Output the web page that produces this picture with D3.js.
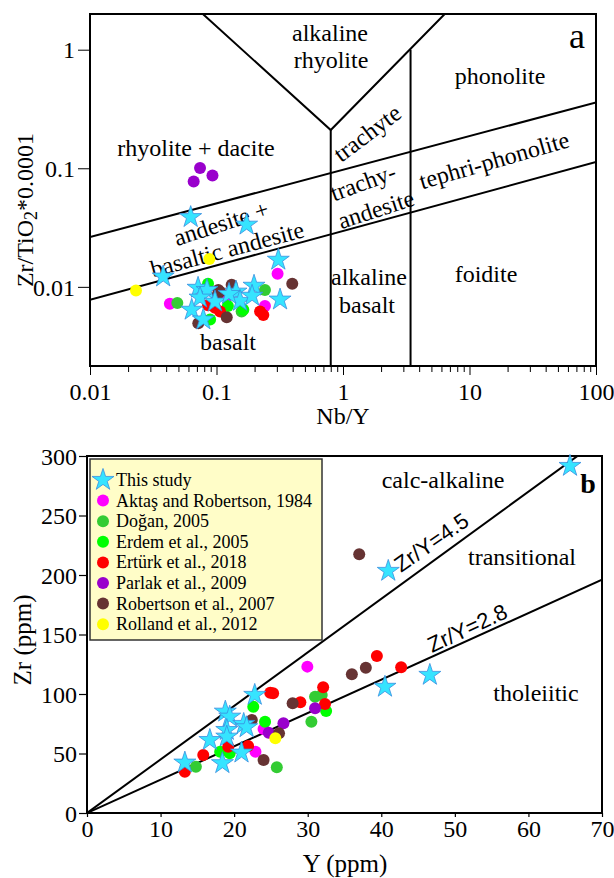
<!DOCTYPE html>
<html>
<head>
<meta charset="utf-8">
<script src="https://cdn.jsdelivr.net/npm/d3@7"></script>
<style>
  html, body { margin: 0; padding: 0; background: #fff; }
  svg { display: block; }
  text { font-family: "Liberation Serif", "Times New Roman", Times, serif; fill: #000; }
</style>
</head>
<body>
<svg id="chart" width="614" height="878"></svg>
<script>
// ---- Series (legend order) ----
const seriesNames = [
  "This study",
  "Aktaş and Robertson, 1984",
  "Doğan, 2005",
  "Erdem et al., 2005",
  "Ertürk et al., 2018",
  "Parlak et al., 2009",
  "Robertson et al., 2007",
  "Rolland et al., 2012"
];
const seriesColors = ["#36e4ff", "#ff00ff", "#33cc33", "#00ff00", "#ff0000", "#9900cc", "#663333", "#ffff00"];

// ---- Panel a: Nb/Y vs Zr/TiO2*0.0001 ----
const thisStudyA = [[0.0625,0.0387],[0.173,0.0334],[0.308,0.0169],[0.0379,0.0122],[0.318,0.0078],[0.198,0.0102],
  [0.0715,0.0098],[0.0841,0.0094],[0.0741,0.0081],[0.1426,0.0091],[0.1535,0.0076],[0.191,0.0084],
  [0.0637,0.0064],[0.0787,0.0053],[0.0973,0.0075],[0.1256,0.0087]];
const aktasA = [[0.304,0.0129],[0.0428,0.0072],[0.2415,0.0069],[0.1205,0.0083]];
const doganA = [[0.049,0.0073],[0.2415,0.0094],[0.158,0.0062]];
const erdemA = [[0.089,0.0053],[0.163,0.0064],[0.0857,0.0106],[0.123,0.0069]];
const erturkA = [[0.221,0.0062],[0.2344,0.0058],[0.0973,0.00665],[0.1067,0.0062],[0.0857,0.0070]];
const parlakA = [[0.0741,0.1004],[0.0929,0.0869],[0.066,0.0774]];
const robertsonA = [[0.397,0.0106],[0.1033,0.0094],[0.1318,0.0104],[0.1205,0.00555],[0.0718,0.00494],[0.1004,0.0083],[0.1067,0.0091]];
const rollandA = [[0.0877,0.0172],[0.0231,0.0093]];

// ---- Panel b: Y vs Zr (ppm) ----
const thisStudyB = [[65.65,291.6],[40.95,203.4],[40.5,106],[46.6,116],[22.8,99.2],[18.8,85.1],[19.4,80.9],
  [21.3,74.8],[21.7,72],[19.0,69.7],[19.0,64.1],[16.7,61.3],[21.0,50.7],[18.4,41.8],[13.3,42.3]];
const aktasB = [[29.95,123],[24.0,70.6],[22.9,51.5]];
const doganB = [[31.0,97.7],[31.9,99.2],[30.5,76.7],[25.8,38.4],[14.8,38.9]];
const erdemB = [[32.5,85.7],[22.6,89.3],[24.2,76.7],[18.1,51.5],[19.4,50.2]];
const erturkB = [[39.4,132],[42.7,122.4],[32.1,105.6],[32.35,91.6],[24.9,101],[25.3,100.6],[29.0,93],
  [15.8,48.7],[13.3,34.7],[19.2,55.7],[21.9,56.3]];
const parlakB = [[31.0,88],[26.7,75.4],[24.7,67.5]];
const robertsonB = [[37,217.4],[37.9,122],[36,116.5],[27.95,92.2],[22.4,78.2],[26.1,67],[24.0,44.5]];
const rollandB = [[25.6,62.8]];

// ---- Axis ticks ----
const xTicksA = [0.01, 0.1, 1, 10, 100];
const yTicksA = [0.01, 0.1, 1];
const xTicksB = [0, 10, 20, 30, 40, 50, 60, 70];
const yTicksB = [0, 50, 100, 150, 200, 250, 300];

// ---- Classification boundaries ----
const fieldLinesA = [
  [[0.01,0.0263],[100,0.359]],
  [[0.01,0.00777],[100,0.1128]],
  [[0.078,2.0],[0.8,0.21],[6.37,2.0]],
  [[0.8,0.00215],[0.8,0.21]],
  [[3.42,0.00215],[3.42,1.0]]
];
const zrYRatios = [4.5, 2.8];

const svg = d3.select("#chart");
const seriesA = [thisStudyA, aktasA, doganA, erdemA, erturkA, parlakA, robertsonA, rollandA];
const seriesB = [thisStudyB, aktasB, doganB, erdemB, erturkB, parlakB, robertsonB, rollandB];
const starPath = d3.symbol(d3.symbolStar, 150)();

function drawPoints(g, series, x, y) {
  for (let i = 1; i < series.length; i++) {
    g.selectAll(null).data(series[i]).join("circle")
      .attr("cx", d => x(d[0])).attr("cy", d => y(d[1]))
      .attr("r", 6).attr("fill", seriesColors[i]);
  }
  g.selectAll(null).data(series[0]).join("path")
    .attr("d", starPath)
    .attr("transform", d => `translate(${x(d[0])},${y(d[1])})`)
    .attr("fill", seriesColors[0]).attr("stroke", "#3a8ee0").attr("stroke-width", 0.8);
}

// ================= Panel a =================
const xa = d3.scaleLog().domain([0.01, 100]).range([90, 596]);
const ya = d3.scaleLog().domain([0.00215, 2.0]).range([366, 14]);
const ga = svg.append("g");

ga.append("clipPath").attr("id", "clipA").append("rect")
  .attr("x", 90).attr("y", 14).attr("width", 506).attr("height", 352);

// x axis with minor ticks
const minorA = xa.ticks();
const xAxisA = d3.axisBottom(xa).tickValues(minorA)
  .tickFormat(d => xTicksA.includes(d) ? d3.format("~g")(d) : "").tickSizeOuter(0);
const gxa = ga.append("g").attr("transform", "translate(0,366)").call(xAxisA);
gxa.attr("font-family", null);
gxa.select(".domain").remove();
gxa.selectAll(".tick line").attr("stroke", "#000").attr("stroke-width", 1)
  .attr("y2", d => xTicksA.includes(d) ? 9 : 6);
gxa.selectAll(".tick text").attr("y", 34).attr("dy", 0).attr("font-size", 24);

const yAxisA = d3.axisLeft(ya).tickValues(yTicksA).tickFormat(d3.format("~g")).tickSize(12);
const gya = ga.append("g").attr("transform", "translate(90,0)").call(yAxisA);
gya.attr("font-family", null);
gya.select(".domain").remove();
gya.selectAll(".tick line").attr("stroke", "#000").attr("stroke-width", 1);
gya.selectAll(".tick text").attr("x", -15).attr("dy", "0.34em").attr("font-size", 24);

const lineA = d3.line().x(d => xa(d[0])).y(d => ya(d[1]));
ga.append("g").attr("clip-path", "url(#clipA)")
  .selectAll("path").data(fieldLinesA).join("path")
  .attr("d", lineA).attr("fill", "none").attr("stroke", "#000").attr("stroke-width", 2);

ga.append("rect").attr("x", 90).attr("y", 14).attr("width", 506).attr("height", 352)
  .attr("fill", "none").attr("stroke", "#000").attr("stroke-width", 2);

// field names
const labelsA = [
  {t: "alkaline", x: 330, y: 41},
  {t: "rhyolite", x: 331, y: 68},
  {t: "phonolite", x: 500, y: 84},
  {t: "rhyolite + dacite", x: 196, y: 156},
  {t: "foidite", x: 486, y: 282},
  {t: "alkaline", x: 369, y: 285},
  {t: "basalt", x: 367, y: 313},
  {t: "basalt", x: 228, y: 350}
];
ga.selectAll("text.lbl").data(labelsA).join("text").attr("class", "lbl")
  .attr("x", d => d.x).attr("y", d => d.y).attr("text-anchor", "middle")
  .attr("font-size", 24).text(d => d.t);

const rotLabelsA = [
  {t: "trachyte", x: 367, y: 133, r: -37},
  {t: "trachy-", x: 363, y: 182, r: -20},
  {t: "andesite", x: 376, y: 209, r: -18},
  {t: "tephri-phonolite", x: 494, y: 160, r: -16},
  {t: "andesite +", x: 221, y: 223, r: -18},
  {t: "basaltic andesite", x: 227, y: 249, r: -15}
];
ga.selectAll("text.rlbl").data(rotLabelsA).join("text").attr("class", "rlbl")
  .attr("transform", d => `translate(${d.x},${d.y}) rotate(${d.r})`)
  .attr("text-anchor", "middle").attr("dy", "0.35em")
  .attr("font-size", 24).text(d => d.t);

drawPoints(ga, seriesA, xa, ya);

ga.append("text").attr("x", 577).attr("y", 48).attr("text-anchor", "middle")
  .attr("font-size", 36).text("a");

ga.append("text").attr("x", 343).attr("y", 424).attr("text-anchor", "middle")
  .attr("font-size", 24).text("Nb/Y");

const ytA = ga.append("text").attr("transform", "translate(33,210) rotate(-90)")
  .attr("text-anchor", "middle").attr("font-size", 24);
ytA.append("tspan").text("Zr/TiO");
ytA.append("tspan").attr("font-size", 18).attr("dy", 4).text("2");
ytA.append("tspan").attr("dy", -4).text("*0.0001");

// ================= Panel b =================
const xb = d3.scaleLinear().domain([0, 70]).range([87, 602]);
const yb = d3.scaleLinear().domain([0, 300]).range([813, 456]);
const gb = svg.append("g");

gb.append("clipPath").attr("id", "clipB").append("rect")
  .attr("x", 87).attr("y", 456).attr("width", 515).attr("height", 357);

const xAxisB = d3.axisBottom(xb).tickValues(xTicksB).tickSize(4).tickSizeOuter(0);
const gxb = gb.append("g").attr("transform", "translate(0,813)").call(xAxisB);
gxb.attr("font-family", null);
gxb.select(".domain").remove();
gxb.selectAll(".tick line").attr("stroke", "#000").attr("stroke-width", 1.2);
gxb.selectAll(".tick text").attr("y", 24).attr("dy", 0).attr("font-size", 24);

const yAxisB = d3.axisLeft(yb).tickValues(yTicksB).tickSize(8).tickSizeOuter(0);
const gyb = gb.append("g").attr("transform", "translate(87,0)").call(yAxisB);
gyb.attr("font-family", null);
gyb.select(".domain").remove();
gyb.selectAll(".tick line").attr("stroke", "#000").attr("stroke-width", 1.2);
gyb.selectAll(".tick text").attr("x", -10).attr("dy", "0.34em").attr("font-size", 24);

gb.append("g").attr("clip-path", "url(#clipB)")
  .selectAll("line").data(zrYRatios).join("line")
  .attr("x1", xb(0)).attr("y1", yb(0))
  .attr("x2", xb(70)).attr("y2", r => yb(70 * r))
  .attr("stroke", "#000").attr("stroke-width", 2);

// legend
const lg = gb.append("g");
lg.append("rect").attr("x", 90).attr("y", 459).attr("width", 232).attr("height", 181)
  .attr("fill", "#fffdc8").attr("stroke", "#333").attr("stroke-width", 1.5);
seriesNames.forEach((name, i) => {
  const cy = 480 + 20.6 * i;
  if (i === 0) {
    lg.append("path").attr("d", starPath).attr("transform", `translate(103,${cy})`)
      .attr("fill", seriesColors[0]).attr("stroke", "#3a8ee0").attr("stroke-width", 0.8);
  } else {
    lg.append("circle").attr("cx", 103).attr("cy", cy).attr("r", 6).attr("fill", seriesColors[i]);
  }
  lg.append("text").attr("x", 116).attr("y", cy + 6).attr("font-size", 18).text(name);
});

gb.append("rect").attr("x", 87).attr("y", 456).attr("width", 515).attr("height", 357)
  .attr("fill", "none").attr("stroke", "#000").attr("stroke-width", 2);

// field names
const labelsB = [
  {t: "calc-alkaline", x: 443, y: 488},
  {t: "transitional", x: 522, y: 565},
  {t: "tholeiitic", x: 536, y: 701}
];
gb.selectAll("text.lbl").data(labelsB).join("text").attr("class", "lbl")
  .attr("x", d => d.x).attr("y", d => d.y).attr("text-anchor", "middle")
  .attr("font-size", 24).text(d => d.t);

const ratioLabels = [
  {t: "Zr/Y=4.5", x: 401, y: 573, r: -35},
  {t: "Zr/Y=2.8", x: 432, y: 653, r: -25}
];
gb.selectAll("text.ratio").data(ratioLabels).join("text").attr("class", "ratio")
  .attr("transform", d => `translate(${d.x},${d.y}) rotate(${d.r})`)
  .style("font-family", "'Liberation Sans', Arial, sans-serif")
  .attr("font-size", 22).text(d => d.t);

drawPoints(gb, seriesB, xb, yb);

gb.append("text").attr("x", 588).attr("y", 493).attr("text-anchor", "middle")
  .attr("font-size", 28).attr("font-weight", "bold").text("b");

gb.append("text").attr("x", 345).attr("y", 872).attr("text-anchor", "middle")
  .attr("font-size", 25).text("Y (ppm)");
gb.append("text").attr("transform", "translate(31,640) rotate(-90)")
  .attr("text-anchor", "middle").attr("font-size", 25).text("Zr (ppm)");
</script>
</body>
</html>
